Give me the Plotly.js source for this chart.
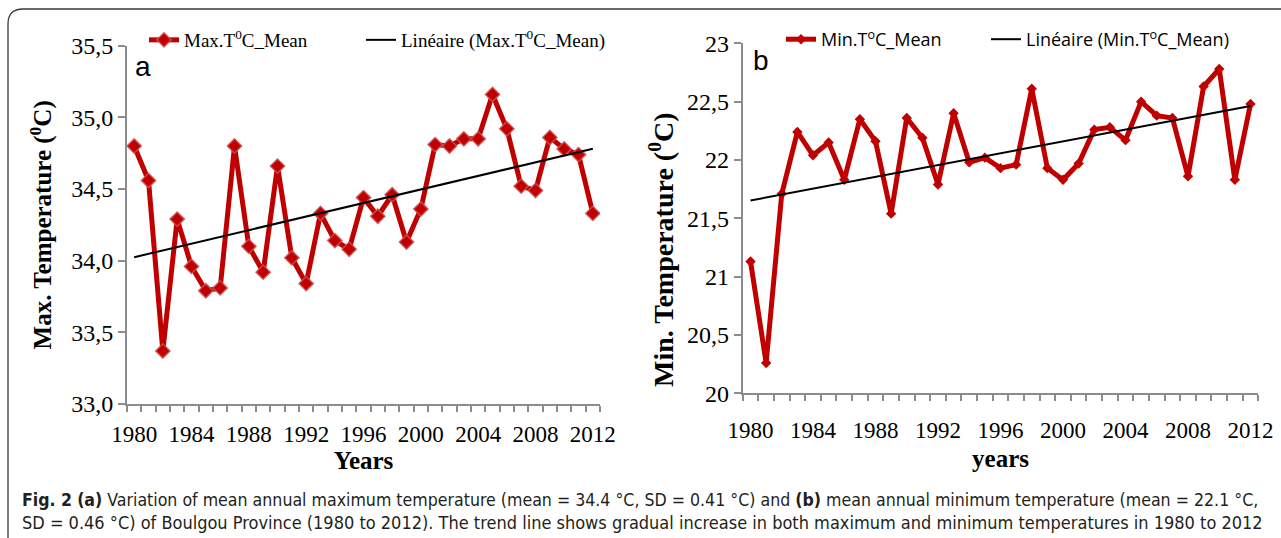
<!DOCTYPE html>
<html>
<head>
<meta charset="utf-8">
<script src="https://cdn.plot.ly/plotly-3.0.1.min.js"></script>
<style>
  html, body { margin: 0; padding: 0; background: #ffffff; }
  #chart { width: 1281px; height: 538px; }
</style>
</head>
<body>
<div id="chart"></div>
<script>
// ---- data ----
const years = [1980, 1981, 1982, 1983, 1984, 1985, 1986, 1987, 1988, 1989, 1990,
               1991, 1992, 1993, 1994, 1995, 1996, 1997, 1998, 1999, 2000, 2001,
               2002, 2003, 2004, 2005, 2006, 2007, 2008, 2009, 2010, 2011, 2012];

const maxTMean = [34.80, 34.56, 33.37, 34.29, 33.96, 33.79, 33.81, 34.80, 34.10, 33.92, 34.66,
                  34.02, 33.84, 34.33, 34.14, 34.08, 34.44, 34.31, 34.46, 34.13, 34.36, 34.81,
                  34.80, 34.85, 34.85, 35.16, 34.92, 34.52, 34.49, 34.86, 34.78, 34.74, 34.33];

const minTMean = [21.13, 20.26, 21.71, 22.24, 22.04, 22.15, 21.83, 22.35, 22.16, 21.54, 22.36,
                  22.19, 21.79, 22.40, 21.98, 22.02, 21.93, 21.96, 22.61, 21.93, 21.83, 21.97,
                  22.26, 22.28, 22.17, 22.50, 22.38, 22.36, 21.86, 22.63, 22.78, 21.83, 22.48];

const xTickYears = [1980, 1984, 1988, 1992, 1996, 2000, 2004, 2008, 2012];
const xTickText  = ['1980', '1984', '1988', '1992', '1996', '2000', '2004', '2008', '2012'];

const yTickValsA = [33.0, 33.5, 34.0, 34.5, 35.0, 35.5];
const yTickTextA = ['33,0', '33,5', '34,0', '34,5', '35,0', '35,5'];

const yTickValsB = [20, 20.5, 21, 21.5, 22, 22.5, 23];
const yTickTextB = ['20', '20,5', '21', '21,5', '22', '22,5', '23'];

// Excel-style "Linéaire" trend line = least-squares fit of the series
function linearFit(xs, ys) {
  const n = xs.length;
  let sx = 0, sy = 0, sxx = 0, sxy = 0;
  for (let i = 0; i < n; i++) { sx += xs[i]; sy += ys[i]; sxx += xs[i] * xs[i]; sxy += xs[i] * ys[i]; }
  const slope = (n * sxy - sx * sy) / (n * sxx - sx * sx);
  const icpt = (sy - slope * sx) / n;
  return xs.map(x => icpt + slope * x);
}
const trendA = linearFit(years, maxTMean);
const trendB = linearFit(years, minTMean);

// ---- layout helpers (pixel -> paper) ----
const W = 1281, H = 538;
const px = v => v / W;
const py = v => 1 - v / H;

const RED = '#C00000';
const AXIS_GREY = '#8c8c8c';
const SERIF = 'Liberation Serif, Times New Roman, serif';
const SANS = 'Liberation Sans, Arial, sans-serif';
const LEGSANS = 'Open Sans, Noto Sans, sans-serif';
const CAPFONT = 'Liberation Sans Narrow, DejaVu Sans Condensed, Liberation Sans, sans-serif';

const traces = [
  {
    x: years, y: maxTMean, type: 'scatter', mode: 'lines+markers',
    name: 'Max.T<sup>0</sup>C_Mean', legend: 'legend',
    xaxis: 'x', yaxis: 'y',
    line: { color: RED, width: 5 },
    marker: { symbol: 'diamond', size: 11, color: RED, line: { color: 'rgba(205,80,80,0.85)', width: 1.5 } }
  },
  {
    x: years, y: trendA, type: 'scatter', mode: 'lines',
    name: 'Linéaire (Max.T<sup>0</sup>C_Mean)', legend: 'legend2',
    xaxis: 'x', yaxis: 'y',
    line: { color: '#000000', width: 2 }
  },
  {
    x: years, y: minTMean, type: 'scatter', mode: 'lines+markers',
    name: 'Min.T<sup>o</sup>C_Mean', legend: 'legend3',
    xaxis: 'x2', yaxis: 'y2',
    line: { color: RED, width: 5 },
    marker: { symbol: 'diamond', size: 8, color: RED }
  },
  {
    x: years, y: trendB, type: 'scatter', mode: 'lines',
    name: 'Linéaire (Min.T<sup>o</sup>C_Mean)', legend: 'legend4',
    xaxis: 'x2', yaxis: 'y2',
    line: { color: '#000000', width: 2 }
  }
];

function xAxis(domain, anchor, standoff) {
  return {
    domain: domain, anchor: anchor,
    range: [1979.5, 2012.5],
    tickmode: 'array', tickvals: xTickYears, ticktext: xTickText,
    ticks: '', ticklabelstandoff: standoff,
    tickfont: { family: SERIF, size: 23, color: '#000' },
    showline: true, linecolor: AXIS_GREY, linewidth: 2,
    showgrid: false, zeroline: false, automargin: false,
    minor: { tickmode: 'linear', tick0: 1979.5, dtick: 1, ticks: 'outside', ticklen: 6, tickcolor: AXIS_GREY, tickwidth: 2, showgrid: false }
  };
}
function yAxis(domain, anchor, range, vals, text) {
  return {
    domain: domain, anchor: anchor,
    range: range,
    tickmode: 'array', tickvals: vals, ticktext: text,
    ticks: 'outside', ticklen: 7, tickcolor: AXIS_GREY, tickwidth: 2,
    tickfont: { family: SERIF, size: 24, color: '#000' },
    showline: true, linecolor: AXIS_GREY, linewidth: 2,
    showgrid: false, zeroline: false, automargin: false
  };
}

const xa = xAxis([px(127), px(600)], 'y', 8);
xa.title = { text: '<b>Years</b>', font: { family: SERIF, size: 25, color: '#000' }, standoff: 2 };
const ya = yAxis([py(404), py(45.7)], 'x', [33, 35.5], yTickValsA, yTickTextA);
ya.title = { text: '<b>Max. Temperature (<sup>0</sup>C)</b>', font: { family: SERIF, size: 25, color: '#000' }, standoff: 12 };

const xb = xAxis([px(742.7), px(1258.3)], 'y2', 15);
xb.title = { text: '<b>years</b>', font: { family: SERIF, size: 25, color: '#000' }, standoff: 8 };
const yb = yAxis([py(393.3), py(43.3)], 'x2', [20, 23], yTickValsB, yTickTextB);

function legendAt(xPix, fontFamily, size) {
  return {
    orientation: 'h', x: px(xPix), y: py(21), xanchor: 'left', yanchor: 'top',
    font: { family: fontFamily, size: size, color: '#000' },
    bgcolor: 'rgba(0,0,0,0)', itemwidth: 30
  };
}

const layout = {
  width: W, height: H,
  margin: { l: 0, r: 0, t: 0, b: 0 },
  paper_bgcolor: '#ffffff', plot_bgcolor: '#ffffff',
  showlegend: true,
  xaxis: xa, yaxis: ya, xaxis2: xb, yaxis2: yb,
  legend:  legendAt(144, SERIF, 19),
  legend2: legendAt(361, SERIF, 19),
  legend3: legendAt(781, LEGSANS, 18),
  legend4: legendAt(986, LEGSANS, 18),
  annotations: [
    { text: '<b>Min. Temperature (<sup>0</sup>C)</b>', xref: 'paper', yref: 'paper', x: px(661), y: py(250),
      xanchor: 'center', yanchor: 'middle', textangle: -90, showarrow: false,
      font: { family: SERIF, size: 28, color: '#000' } },
    { text: 'a', xref: 'paper', yref: 'paper', x: px(133), y: py(66), xanchor: 'left', yanchor: 'middle',
      showarrow: false, font: { family: SANS, size: 28, color: '#000' } },
    { text: 'b', xref: 'paper', yref: 'paper', x: px(751), y: py(60), xanchor: 'left', yanchor: 'middle',
      showarrow: false, font: { family: SANS, size: 28, color: '#000' } },
    { text: '<b>Fig. 2</b> <b>(a)</b> Variation of mean annual maximum temperature (mean = 34.4 °C, SD = 0.41 °C) and <b>(b)</b> mean annual minimum temperature (mean = 22.1 °C,',
      xref: 'paper', yref: 'paper', x: px(20), y: py(500), xanchor: 'left', yanchor: 'middle', showarrow: false,
      font: { family: CAPFONT, size: 17.6, color: '#231f20' } },
    { text: 'SD = 0.46 °C) of Boulgou Province (1980 to 2012). The trend line shows gradual increase in both maximum and minimum temperatures in 1980 to 2012',
      xref: 'paper', yref: 'paper', x: px(20), y: py(522), xanchor: 'left', yanchor: 'middle', showarrow: false,
      font: { family: CAPFONT, size: 18, color: '#231f20' } }
  ],
  shapes: [
    { type: 'path', xref: 'paper', yref: 'paper',
      path: 'M ' + px(8) + ',0 L ' + px(8) + ',' + py(24) + ' Q ' + px(8) + ',' + py(9) + ' ' + px(23) + ',' + py(9) + ' L 1,' + py(9),
      line: { color: '#3a3a3a', width: 1.3 } }
  ]
};

Plotly.newPlot('chart', traces, layout, { displayModeBar: false, staticPlot: true });
</script>
</body>
</html>
